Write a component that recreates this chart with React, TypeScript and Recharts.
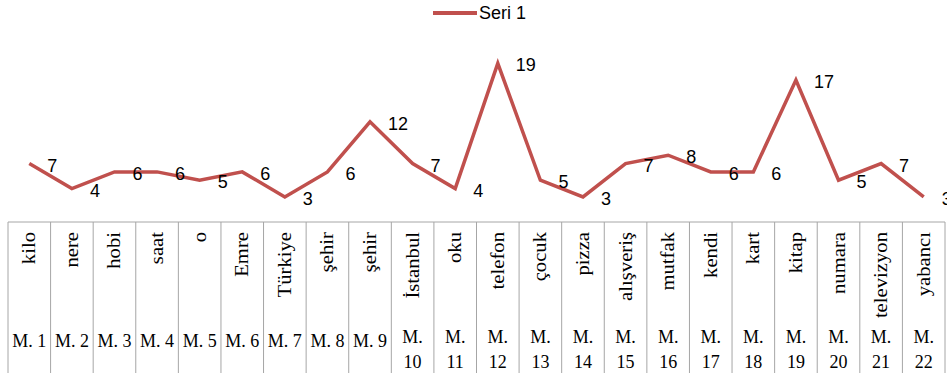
import React from 'react';
import { LineChart, Line, XAxis, YAxis, Legend, LabelList } from 'recharts';

const words = ['kilo', 'nere', 'hobi', 'saat', 'o', 'Emre', 'Türkiye', 'şehir', 'şehir', 'İstanbul', 'oku', 'telefon', 'çocuk', 'pizza', 'alışveriş', 'mutfak', 'kendi', 'kart', 'kitap', 'numara', 'televizyon', 'yabancı'];
const codes = ['M. 1', 'M. 2', 'M. 3', 'M. 4', 'M. 5', 'M. 6', 'M. 7', 'M. 8', 'M. 9', 'M. 10', 'M. 11', 'M. 12', 'M. 13', 'M. 14', 'M. 15', 'M. 16', 'M. 17', 'M. 18', 'M. 19', 'M. 20', 'M. 21', 'M. 22'];
const seri1 = [7, 4, 6, 6, 5, 6, 3, 6, 12, 7, 4, 19, 5, 3, 7, 8, 6, 6, 17, 5, 7, 3];

const data = codes.map((code, i) => ({ code, word: words[i], seri1: seri1[i] }));

const W = 947;
const H = 379;
const LEFT = 8;
const RIGHT = 2;
const COL = (W - LEFT - RIGHT) / codes.length;
const RED = '#C0504D';
const GRID = '#a6a6a6';
const SERIF = '"Liberation Serif", "Times New Roman", serif';
const SANS = '"Liberation Sans", Arial, sans-serif';

// tablo hücresi: dikey kelime + alt kod
const TableTick = (props: any) => {
  const { x, y, payload, index } = props;
  const code: string = payload.value;
  const word = words[index];
  const left = x - COL / 2;
  const parts = code.length > 4 ? ['M.', code.slice(3)] : [code];
  return (
    <g>
      <line x1={left} x2={left} y1={y} y2={y + 151} stroke={GRID} strokeWidth={1} />
      {index === codes.length - 1 && (
        <line x1={left + COL} x2={left + COL} y1={y} y2={y + 151} stroke={GRID} strokeWidth={1} />
      )}
      <g transform={`translate(${x + 6}, ${y + 10}) rotate(-90) scale(1.15, 1)`}>
        <text x={0} y={0} textAnchor="end" fontFamily={SERIF} fontSize={18} fill="#000">
          {word}
        </text>
      </g>
      {parts.length === 1 ? (
        <text x={x} y={y + 119} textAnchor="middle" dominantBaseline="central" fontFamily={SERIF} fontSize={18} fill="#000">
          {parts[0]}
        </text>
      ) : (
        <>
          <text x={x} y={y + 115} textAnchor="middle" dominantBaseline="central" fontFamily={SERIF} fontSize={18} fill="#000">
            {parts[0]}
          </text>
          <text x={x} y={y + 140} textAnchor="middle" dominantBaseline="central" fontFamily={SERIF} fontSize={18} fill="#000">
            {parts[1]}
          </text>
        </>
      )}
    </g>
  );
};

const LegendBox = () => (
  <svg width={W} height={55} style={{ display: 'block' }}>
    <line x1={433} x2={477} y1={13} y2={13} stroke={RED} strokeWidth={4} />
    <text x={479} y={13} dominantBaseline="central" fontFamily={SANS} fontSize={18} fill="#000">
      Seri 1
    </text>
  </svg>
);

const ValueLabel = (props: any) => {
  const { x, y, value } = props;
  return (
    <text x={x + 18} y={y + 2} dominantBaseline="central" fontFamily={SANS} fontSize={18} fill="#000">
      {value}
    </text>
  );
};

const App: React.FC = () => (
  <div style={{ position: 'absolute', left: 0, top: 0, width: W, height: H, background: '#fff' }}>
    <LineChart width={W} height={H} data={data} margin={{ top: 0, right: RIGHT, bottom: 0, left: LEFT }}>
      <Legend
        verticalAlign="top"
        align="left"
        content={() => <LegendBox />}
        wrapperStyle={{ left: 0, top: 0, width: W, height: 55 }}
      />
      <XAxis
        dataKey="code"
        interval={0}
        height={157}
        padding={{ left: COL / 2, right: COL / 2 }}
        tickSize={0}
        tickMargin={0}
        tickLine={false}
        axisLine={{ stroke: GRID, strokeWidth: 1 }}
        tick={<TableTick />}
      />
      <YAxis hide domain={[0, 20]} width={0} />
      <Line
        type="linear"
        dataKey="seri1"
        name="Seri 1"
        stroke={RED}
        strokeWidth={3.5}
        dot={false}
        activeDot={false}
        isAnimationActive={false}
      >
        <LabelList dataKey="seri1" content={<ValueLabel />} />
      </Line>
    </LineChart>
  </div>
);

export default App;
